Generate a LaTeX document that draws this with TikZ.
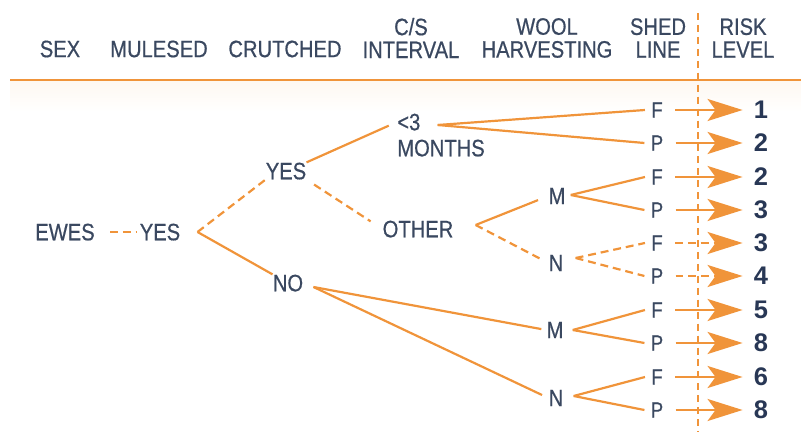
\documentclass[tikz,border=0pt]{standalone}
\usepackage{fontspec}
\setmainfont{Liberation Sans}[FakeStretch=0.85, FakeBold=0.6]
\newfontfamily\numfont{Liberation Sans}
\usepackage{tikz}
\usetikzlibrary{arrows.meta}

\definecolor{orng}{RGB}{240,148,58}
\definecolor{txt}{RGB}{58,72,96}
\definecolor{num}{RGB}{40,55,85}

\begin{document}
\begin{tikzpicture}[x=0.02cm, y=-0.02cm,
  hd/.style={inner sep=0pt, align=center, text=txt, font=\fontsize{13.5}{13}\selectfont},
  lbl/.style={inner sep=0pt, text depth=0pt, text=txt, font=\fontsize{13.5}{16}\selectfont},
  fp/.style={lbl, inner xsep=0.12cm, font=\fontsize{12.5}{14}\selectfont},
  risk/.style={inner sep=0pt, text depth=0pt, text=num, font={\numfont\fontsize{14.5}{16}\selectfont\bfseries}},
  br/.style={orng, line width=1.25pt},
  brd/.style={br, dash pattern=on 4.5pt off 2.8pt},
  arr/.style={-{Stealth[length=0.7cm, width=0.44cm, inset=0.16cm]}, shorten <=0.12cm, shorten >=0.22cm}]
\useasboundingbox (0,0) rectangle (801,432);
\def \fpx {657}
\def \rkx {761}

%Header
\node[hd] (hsex) at (60,49) {SEX};
\node[hd] (hmul) at (159,49) {MULESED};
\node[hd] (hcru) at (285,49) {CRUTCHED};
\node[hd] (hcs) at (411,38) {C/S\\INTERVAL};
\node[hd] (hwool) at (547,38) {WOOL\\HARVESTING};
\node[hd] (hshed) at (658,38) {SHED\\LINE};
\node[hd] (hrisk) at (743,38) {RISK\\LEVEL};

\shade[top color=orng!7, bottom color=white] (10,81) rectangle (801,112);
\draw[orng, line width=1.5pt] (10,80) -- (801,80);
\draw[orng, line width=1.4pt, dash pattern=on 4pt off 2.8pt] (698,13) -- (698,432);

%Tree labels
\node[lbl] (ewes) at (65,232) {EWES};
\node[lbl] (ym) at (160,232) {YES};
\node[lbl] (yc) at (286,171) {YES};
\node[lbl] (no) at (288,283) {NO};
\node[lbl, anchor=west] (lt3) at (397,122) {<3};
\node[lbl, anchor=west] (months) at (397,148) {MONTHS};
\node[lbl] (other) at (418,229) {OTHER};
\node[lbl] (mu) at (557,196) {M};
\node[lbl] (nu) at (556,263) {N};
\node[lbl] (ml) at (555,330) {M};
\node[lbl] (nl) at (556,398) {N};

%Shed line
\node[fp] (f1) at (\fpx,110) {F};
\node[fp] (p1) at (\fpx,143) {P};
\node[fp] (f2) at (\fpx,177) {F};
\node[fp] (p2) at (\fpx,210) {P};
\node[fp] (f3) at (\fpx,243) {F};
\node[fp] (p3) at (\fpx,276) {P};
\node[fp] (f4) at (\fpx,310) {F};
\node[fp] (p4) at (\fpx,343) {P};
\node[fp] (f5) at (\fpx,377) {F};
\node[fp] (p5) at (\fpx,410) {P};

%Risk level
\node[risk] (rf1) at (\rkx,110) {1};
\node[risk] (rp1) at (\rkx,143) {2};
\node[risk] (rf2) at (\rkx,177) {2};
\node[risk] (rp2) at (\rkx,210) {3};
\node[risk] (rf3) at (\rkx,243) {3};
\node[risk] (rp3) at (\rkx,276) {4};
\node[risk] (rf4) at (\rkx,310) {5};
\node[risk] (rp4) at (\rkx,343) {8};
\node[risk] (rf5) at (\rkx,377) {6};
\node[risk] (rp5) at (\rkx,410) {8};

%Branch points
\coordinate (jym) at ([shift={(17,0)}]ym.east);
\coordinate (jlt) at ([shift={(17,3)}]lt3.east);
\coordinate (jot) at ([shift={(22,-4)}]other.east);
\coordinate (jmu) at ([shift={(5,-1)}]mu.east);
\coordinate (jnu) at ([shift={(12,-5)}]nu.east);
\coordinate (jno) at ([shift={(10,4)}]no.east);
\coordinate (jml) at ([shift={(9,0)}]ml.east);
\coordinate (jnl) at ([shift={(10,-2)}]nl.east);

%Sex, mulesed, crutched
\draw[brd, shorten <=0.3cm, shorten >=0.06cm] (ewes.east) -- (ym.west);
\draw[brd] (jym) -- (yc.south west);
\draw[br] (jym) -- (no.north west);

%C/S interval
\draw[br, shorten >=0.18cm] (yc.north east) -- (lt3.west);
\draw[brd, shorten <=0.18cm, shorten >=0.28cm] (yc.south east) -- (other.west);
\draw[br] (jlt) -- (f1.west);
\draw[br] (jlt) -- (p1.west);

%Wool harvesting
\draw[br, shorten >=0.22cm] (jot) -- (mu.west);
\draw[brd, shorten >=0.2cm] (jot) -- (nu.west);
\draw[br, shorten >=0.1cm] (jno) -- (ml.west);
\draw[br, shorten >=0.14cm] (jno) -- (nl.west);

%Shed line branches
\draw[br] (jmu) -- (f2.west);
\draw[br] (jmu) -- (p2.west);
\draw[brd] (jnu) -- (f3.west);
\draw[brd] (jnu) -- (p3.west);
\draw[br] (jml) -- (f4.west);
\draw[br] (jml) -- (p4.west);
\draw[br] (jnl) -- (f5.west);
\draw[br] (jnl) -- (p5.west);

%Arrows to risk level
\draw[br, arr] (f1) -- (rf1);
\draw[br, arr] (p1) -- (rp1);
\draw[br, arr] (f2) -- (rf2);
\draw[br, arr] (p2) -- (rp2);
\draw[brd, arr] (f3) -- (rf3);
\draw[brd, arr] (p3) -- (rp3);
\draw[br, arr] (f4) -- (rf4);
\draw[br, arr] (p4) -- (rp4);
\draw[br, arr] (f5) -- (rf5);
\draw[br, arr] (p5) -- (rp5);

\end{tikzpicture}
\end{document}
